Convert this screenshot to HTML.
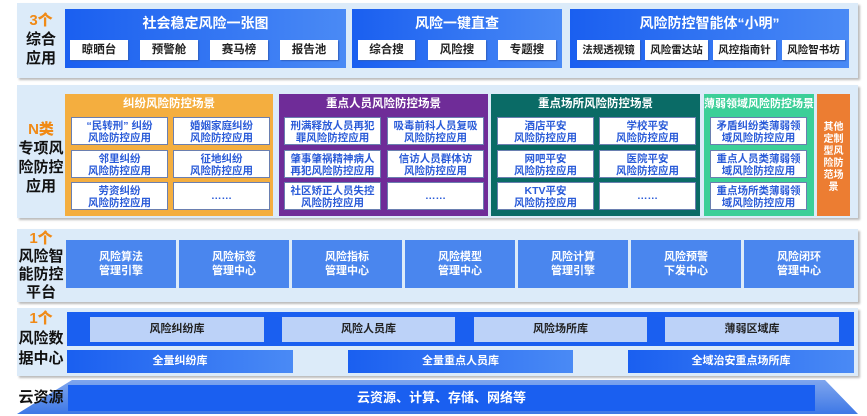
<!DOCTYPE html>
<html><head><meta charset="utf-8"><style>
*{margin:0;padding:0;box-sizing:border-box}
body{width:867px;height:416px;background:#fff;position:relative;overflow:hidden;font-family:"Liberation Sans","Noto Sans CJK SC",sans-serif;font-weight:bold}
div{position:absolute}
.panel{background:#dcebf9;box-shadow:2px 2px 2px #bbb}
.lab{left:17px;width:48px;text-align:center;font-size:15px;line-height:19px;color:#111}
.lab b{color:#f08a16;display:block}
.big{background:linear-gradient(90deg,#1a5ff0,#4a8af5);color:#fff;text-align:center;font-size:14px}
.wb{background:#fff;color:#222;font-size:11.5px;text-align:center;line-height:20px;height:20px;top:40px;box-shadow:1px 1px 1px #3060c0}
.sc{color:#fff;font-size:11.5px;text-align:center}
.sc .h{position:static;height:20px;line-height:20px}
.it{background:#fff;border:1.5px solid #6a7fb0;color:#2a5bd8;font-size:10.5px;line-height:12px;text-align:center;height:28px;padding-top:2px;width:97px}
.pl{background:#4a86ee;color:#fff;font-size:11px;line-height:14px;text-align:center;top:240px;height:48px;padding-top:10px;width:110px}
.lb{background:#bcd2f8;color:#222;font-size:11px;text-align:center;top:317px;height:25px;line-height:25px}
.db{background:linear-gradient(90deg,#1a5ff0,#4a8af5);color:#fff;font-size:11px;text-align:center;top:350px;height:23px;line-height:23px}
</style></head><body>
<div class="panel" style="left:17px;top:3px;width:841px;height:75px"></div>
<div class="lab" style="top:11px"><b>3个</b>综合<br>应用</div>
<div class="big" style="left:65px;top:9px;width:281px;height:59px;line-height:28px">社会稳定风险一张图</div>
<div class="wb" style="left:70px;width:58px">晾晒台</div>
<div class="wb" style="left:140px;width:58px">预警舱</div>
<div class="wb" style="left:210px;width:58px">赛马榜</div>
<div class="wb" style="left:280px;width:58px">报告池</div>
<div class="big" style="left:352px;top:9px;width:210px;height:59px;line-height:28px">风险一键直查</div>
<div class="wb" style="left:358px;width:57px">综合搜</div>
<div class="wb" style="left:428px;width:58px">风险搜</div>
<div class="wb" style="left:498px;width:58px">专题搜</div>
<div class="big" style="left:570px;top:9px;width:279px;height:59px;line-height:28px">风险防控智能体“小明”</div>
<div class="wb" style="left:577px;width:63px;font-size:10.5px">法规透视镜</div>
<div class="wb" style="left:645px;width:63px;font-size:10.5px">风险雷达站</div>
<div class="wb" style="left:713px;width:63px;font-size:10.5px">风控指南针</div>
<div class="wb" style="left:782px;width:63px;font-size:10.5px">风险智书坊</div>

<div class="panel" style="left:17px;top:85px;width:841px;height:133px"></div>
<div class="lab" style="top:120px"><b>N类</b>专项风<br>险防控<br>应用</div>
<div class="sc" style="left:65px;top:94px;width:208px;height:122px;background:#f4ae3f"><div class="h">纠纷风险防控场景</div></div>
<div class="sc" style="left:279px;top:94px;width:209px;height:122px;background:#6f2c98"><div class="h">重点人员风险防控场景</div></div>
<div class="sc" style="left:491px;top:94px;width:209px;height:122px;background:#0a6b66"><div class="h">重点场所风险防控场景</div></div>
<div class="sc" style="left:704px;top:94px;width:110px;height:122px;background:#3ccf98"><div class="h" style="font-size:11px">薄弱领域风险防控场景</div></div>
<div class="sc" style="left:817px;top:94px;width:33px;height:122px;background:#ec7d32;font-size:10px;line-height:12px;padding-top:28px">其他<br>定制<br>型风<br>险防<br>范场<br>景</div>

<div class="it" style="left:71px;top:117px">“民转刑” 纠纷<br>风险防控应用</div>
<div class="it" style="left:173px;top:117px">婚姻家庭纠纷<br>风险防控应用</div>
<div class="it" style="left:71px;top:150px">邻里纠纷<br>风险防控应用</div>
<div class="it" style="left:173px;top:150px">征地纠纷<br>风险防控应用</div>
<div class="it" style="left:71px;top:182px">劳资纠纷<br>风险防控应用</div>
<div class="it" style="left:173px;top:182px;line-height:22px">……</div>

<div class="it" style="left:284px;top:117px">刑满释放人员再犯<br>罪风险防控应用</div>
<div class="it" style="left:387px;top:117px">吸毒前科人员复吸<br>风险防控应用</div>
<div class="it" style="left:284px;top:150px">肇事肇祸精神病人<br>再犯风险防控应用</div>
<div class="it" style="left:387px;top:150px">信访人员群体访<br>风险防控应用</div>
<div class="it" style="left:284px;top:182px">社区矫正人员失控<br>风险防控应用</div>
<div class="it" style="left:387px;top:182px;line-height:22px">……</div>

<div class="it" style="left:497px;top:117px">酒店平安<br>风险防控应用</div>
<div class="it" style="left:599px;top:117px">学校平安<br>风险防控应用</div>
<div class="it" style="left:497px;top:150px">网吧平安<br>风险防控应用</div>
<div class="it" style="left:599px;top:150px">医院平安<br>风险防控应用</div>
<div class="it" style="left:497px;top:182px">KTV平安<br>风险防控应用</div>
<div class="it" style="left:599px;top:182px;line-height:22px">……</div>

<div class="it" style="left:710px;top:117px">矛盾纠纷类薄弱领<br>域风险防控应用</div>
<div class="it" style="left:710px;top:150px">重点人员类薄弱领<br>域风险防控应用</div>
<div class="it" style="left:710px;top:182px">重点场所类薄弱领<br>域风险防控应用</div>

<div class="panel" style="left:17px;top:229px;width:841px;height:73px"></div>
<div class="lab" style="top:230px;line-height:18px"><b>1个</b>风险智<br>能防控<br>平台</div>
<div class="pl" style="left:66px">风险算法<br>管理引擎</div>
<div class="pl" style="left:179px">风险标签<br>管理中心</div>
<div class="pl" style="left:292px">风险指标<br>管理中心</div>
<div class="pl" style="left:405px">风险模型<br>管理中心</div>
<div class="pl" style="left:518px">风险计算<br>管理引擎</div>
<div class="pl" style="left:631px">风险预警<br>下发中心</div>
<div class="pl" style="left:744px">风险闭环<br>管理中心</div>

<div class="panel" style="left:17px;top:308px;width:841px;height:68px"></div>
<div class="lab" style="top:309px;line-height:20px"><b>1个</b>风险数<br>据中心</div>
<div style="left:67px;top:312px;width:787px;height:34px;background:#1a5ff0"></div>
<div class="lb" style="left:90px;width:174px">风险纠纷库</div>
<div class="lb" style="left:282px;width:173px">风险人员库</div>
<div class="lb" style="left:474px;width:173px">风险场所库</div>
<div class="lb" style="left:665px;width:174px">薄弱区域库</div>
<div class="db" style="left:67px;width:226px">全量纠纷库</div>
<div class="db" style="left:348px;width:225px">全量重点人员库</div>
<div class="db" style="left:628px;width:226px">全域治安重点场所库</div>

<svg style="position:absolute;left:0;top:0" width="867" height="416"><defs><linearGradient id="g" x1="0" y1="0" x2="0" y2="1"><stop offset="0" stop-color="#7fa6ee"/><stop offset="1" stop-color="#3e78e6"/></linearGradient></defs><polygon points="72,380 825,380 858,414 17,414" fill="url(#g)"/></svg>
<div class="lab" style="top:388px;font-size:15px">云资源</div>
<div style="left:68px;top:385px;width:747px;height:26px;background:#1a5ff0;color:#fff;font-size:13px;text-align:center;line-height:26px">云资源、计算、存储、网络等</div>
</body></html>
